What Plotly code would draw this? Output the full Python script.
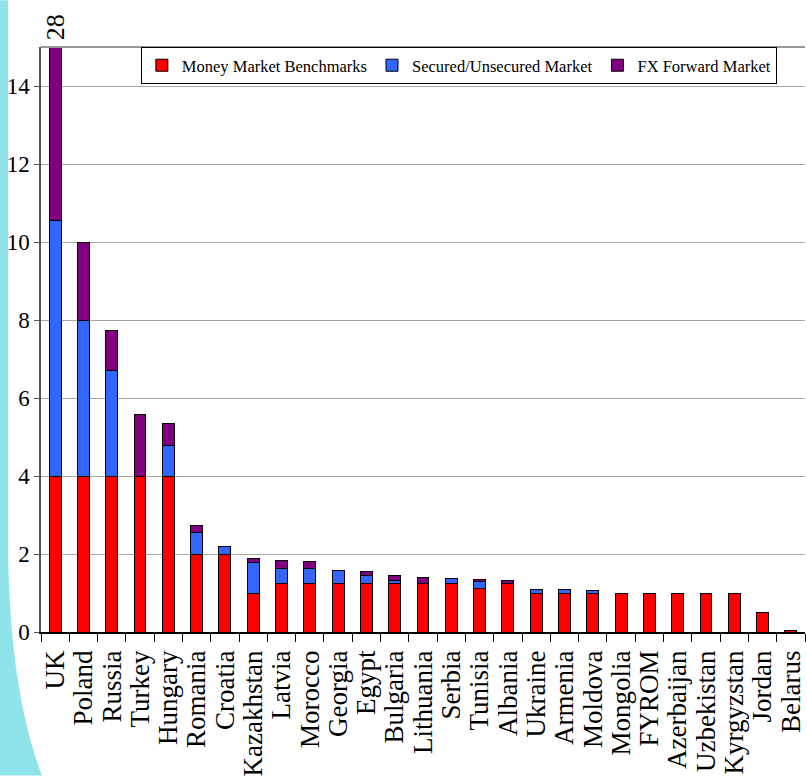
import plotly.graph_objs as go

countries = ['UK', 'Poland', 'Russia', 'Turkey', 'Hungary', 'Romania', 'Croatia',
             'Kazakhstan', 'Latvia', 'Morocco', 'Georgia', 'Egypt', 'Bulgaria',
             'Lithuania', 'Serbia', 'Tunisia', 'Albania', 'Ukraine', 'Armenia',
             'Moldova', 'Mongolia', 'FYROM', 'Azerbaijan', 'Uzbekistan',
             'Kyrgyzstan', 'Jordan', 'Belarus']
money_market = [4, 4, 4, 4, 4, 2, 2, 1, 1.25, 1.25, 1.25, 1.25, 1.25, 1.25, 1.25,
                1.12, 1.25, 1, 1, 1, 1, 1, 1, 1, 1, 0.5, 0.03]
secured = [6.56, 4, 2.7, 0, 0.78, 0.55, 0.2, 0.78, 0.39, 0.38, 0.32, 0.21, 0.07,
           0, 0.11, 0.17, 0, 0.1, 0.1, 0.07, 0, 0, 0, 0, 0, 0, 0]
fx_forward = [17.44, 2, 1.02, 1.57, 0.56, 0.17, 0, 0.11, 0.19, 0.17, 0, 0.09, 0.13,
              0.15, 0, 0.06, 0.06, 0, 0, 0, 0, 0, 0, 0, 0, 0, 0]

series = [
    ('Money Market Benchmarks', money_market, '#FF0000'),
    ('Secured/Unsecured Market', secured, '#3366FF'),
    ('FX Forward Market', fx_forward, '#800080'),
]

SERIF = 'Liberation Serif'
W, H = 807, 778
L, R, T, B = 41, 1, 47, 144

# helpers to place decorations given in page pixels
def px_x(x):
    return (x - L) / (W - L - R)

def px_y(y):
    return (H - B - y) / (H - B - T)

fig = go.Figure()
for name, vals, col in series:
    fig.add_trace(go.Bar(
        x=countries, y=vals, name=name,
        marker=dict(color=col, line=dict(color='black', width=1)),
        width=0.42,
    ))

uk_total = money_market[0] + secured[0] + fx_forward[0]

# cyan slide edge on the left
path = 'M {},{} L {},{} L {},{} C {},{} {},{} {},{} L {},{} Z'.format(
    px_x(0), px_y(0), px_x(8), px_y(0), px_x(8), px_y(540),
    px_x(8), px_y(640), px_x(20), px_y(720), px_x(42), px_y(778),
    px_x(0), px_y(778))

fig.update_layout(
    width=W, height=H,
    margin=dict(l=L, r=R, t=T, b=B),
    barmode='stack',
    plot_bgcolor='white',
    paper_bgcolor='white',
    font=dict(family=SERIF, color='black'),
    showlegend=True,
    legend=dict(
        orientation='h', x=px_x(141), y=1, xanchor='left', yanchor='top',
        bgcolor='white', bordercolor='black', borderwidth=1,
        font=dict(family=SERIF, size=16.5, color='black'),
        traceorder='normal', itemwidth=30,
    ),
    xaxis=dict(
        showgrid=False, linecolor='black', linewidth=1.5,
        tickmode='array', tickvals=countries, ticktext=countries,
        ticks='outside', tickson='boundaries', ticklen=8, tickcolor='black',
        tickangle=-90, ticklabelstandoff=6,
        tickfont=dict(family=SERIF, size=27, color='black'),
        range=[-0.5, 26.5],
    ),
    yaxis=dict(
        range=[0, 15], tickvals=list(range(0, 15, 2)),
        showgrid=True, gridcolor='#a6a6a6', gridwidth=1,
        showline=True, linecolor='#555555', linewidth=1.5,
        ticks='outside', ticklen=5, tickcolor='#555555',
        tickfont=dict(family=SERIF, size=23, color='black'),
        zeroline=False,
    ),
    shapes=[
        dict(type='path', xref='paper', yref='paper', path=path,
             fillcolor='#8FE3EA', line=dict(width=0), layer='below'),
        dict(type='line', xref='paper', yref='paper', x0=0, x1=1, y0=1, y1=1,
             line=dict(color='#999999', width=2)),
    ],
    annotations=[
        dict(x='UK', y=15, xref='x', yref='y', text=str(round(uk_total)),
             textangle=-90, showarrow=False, yanchor='bottom', yshift=5,
             font=dict(family=SERIF, size=26, color='black')),
    ],
)

# drop the default page margin so the figure sits at the window's corner
fig.write_html('out.html', config={'displayModeBar': False},
               post_script="document.body.style.margin='0';")
